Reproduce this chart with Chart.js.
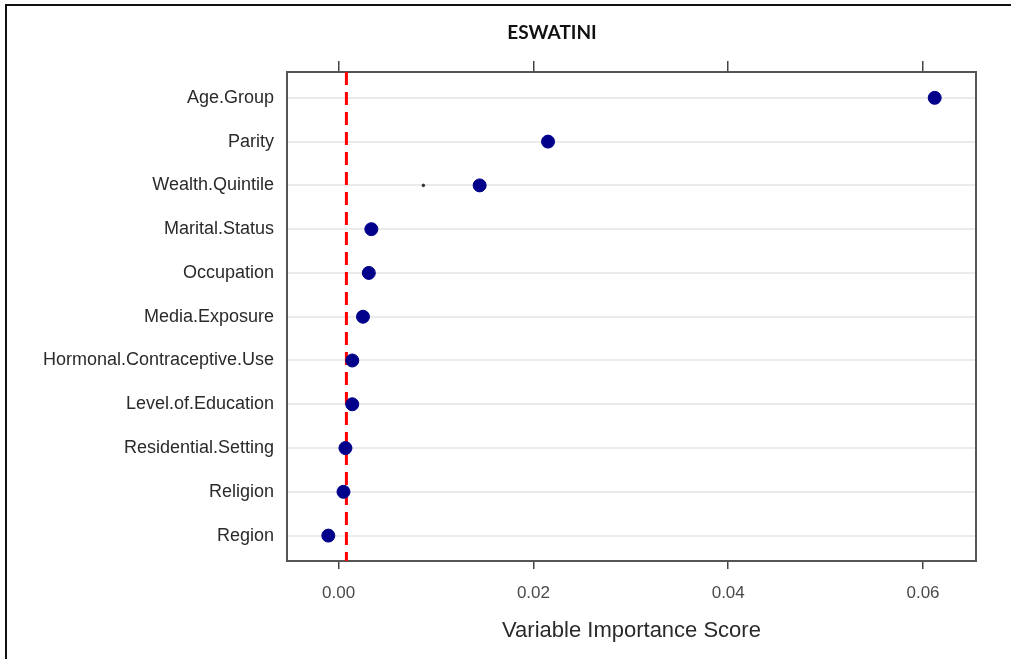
<!DOCTYPE html>
<html>
<head>
<meta charset="utf-8">
<script src="https://cdn.jsdelivr.net/npm/chart.js@4.4.1/dist/chart.umd.min.js"></script>
<style>
  html, body { margin: 0; padding: 0; background: #fff; overflow: hidden; }
  #wrap { position: relative; width: 1011px; height: 659px; }
  #frame { position: absolute; left: 5px; top: 4px; width: 1100px; height: 800px;
           border-top: 2px solid #111; border-left: 2px solid #111; }
  #title { position: absolute; left: 452px; width: 200px; top: 20px; text-align: center;
           font: bold 19px Lato, "Open Sans", sans-serif; color: #111; }
</style>
</head>
<body>
<div id="wrap">
  <div id="frame"></div>
  <canvas id="chart"></canvas>
  <div id="title">ESWATINI</div>
</div>
<script>
// variables, top row first
var variables = ["Age.Group", "Parity", "Wealth.Quintile", "Marital.Status", "Occupation",
    "Media.Exposure", "Hormonal.Contraceptive.Use", "Level.of.Education",
    "Residential.Setting", "Religion", "Region"];
var scores = [0.0612, 0.0215, 0.01448, 0.00336, 0.0031, 0.0025, 0.0014, 0.0014, 0.0007, 0.0005, -0.00106];
// tiny stray mark seen on the Wealth.Quintile row
var strayX = [0.0087];
var strayRow = [2];
var cutoff = 0.0008;
var xTicks = [0, 0.02, 0.04, 0.06];
var xMin = -0.0053, xMax = 0.06544;
var yMin = -0.59, yMax = 10.58;

var points = scores.map((v, i) => ({ x: v, y: i }));
var stray = strayX.map((v, i) => ({ x: v, y: strayRow[i] }));
var cutLine = [{ x: cutoff, y: yMin }, { x: cutoff, y: yMax }];

var fixTicks = (vals) => (scale) => { scale.ticks = vals.map(v => ({ value: v })); };
var sans = "'Liberation Sans', Arial, sans-serif";

// plot box around the chart area
var frameBox = {
    id: "frameBox",
    beforeDatasetsDraw(chart) {
        var a = chart.chartArea, ctx = chart.ctx;
        ctx.save();
        ctx.strokeStyle = "#555";
        ctx.lineWidth = 2;
        ctx.strokeRect(a.left, a.top, a.right - a.left, a.bottom - a.top);
        ctx.restore();
    }
};

new Chart(document.getElementById("chart").getContext("2d"), {
    type: "scatter",
    data: {
        datasets: [{
            label: "Importance",
            data: points,
            backgroundColor: "#00008b",
            borderColor: "#00008b",
            pointRadius: 6.5,
            pointHoverRadius: 6.5,
            order: 1
        }, {
            label: "stray",
            data: stray,
            backgroundColor: "#333",
            borderColor: "#333",
            pointRadius: 1.3,
            order: 1
        }, {
            label: "cutoff",
            data: cutLine,
            showLine: true,
            borderColor: "#ff0000",
            borderWidth: 3,
            borderDash: [13, 7],
            pointRadius: 0,
            order: 2
        }]
    },
    options: {
        responsive: true,
        maintainAspectRatio: false,
        animation: false,
        layout: { padding: { left: 0, right: 35, top: 0, bottom: 0 } },
        plugins: { legend: { display: false }, tooltip: { enabled: false } },
        scales: {
            x: {
                type: "linear", position: "bottom", min: xMin, max: xMax,
                afterBuildTicks: fixTicks(xTicks),
                afterFit: (s) => { s.height = 98; },
                grid: { drawOnChartArea: false, drawTicks: true, tickLength: 8, color: "#444", lineWidth: 1.5 },
                border: { display: false },
                ticks: {
                    callback: (v) => v.toFixed(2),
                    font: { family: sans, size: 17 },
                    color: "#4a4a4a", padding: 14
                },
                title: {
                    display: true, text: "Variable Importance Score",
                    font: { family: sans, size: 22 },
                    color: "#2a2a2a", padding: { top: 0, bottom: 15 }
                }
            },
            x2: {
                type: "linear", position: "top", min: xMin, max: xMax,
                afterBuildTicks: fixTicks(xTicks),
                afterFit: (s) => { s.height = 72; },
                grid: { drawOnChartArea: false, drawTicks: true, tickLength: 11, color: "#444", lineWidth: 1.5 },
                border: { display: false },
                ticks: { color: "rgba(0,0,0,0)", callback: () => "" }
            },
            y: {
                type: "linear", reverse: true, min: yMin, max: yMax,
                afterBuildTicks: fixTicks(variables.map((v, i) => i)),
                afterFit: (s) => { s.width = 287; },
                grid: { drawTicks: false, color: "#ebebeb", lineWidth: 2 },
                border: { display: false },
                ticks: {
                    callback: (v) => variables[v],
                    font: { family: sans, size: 18 },
                    color: "#2a2a2a", padding: 13
                }
            }
        }
    },
    plugins: [frameBox]
});
</script>
</body>
</html>
